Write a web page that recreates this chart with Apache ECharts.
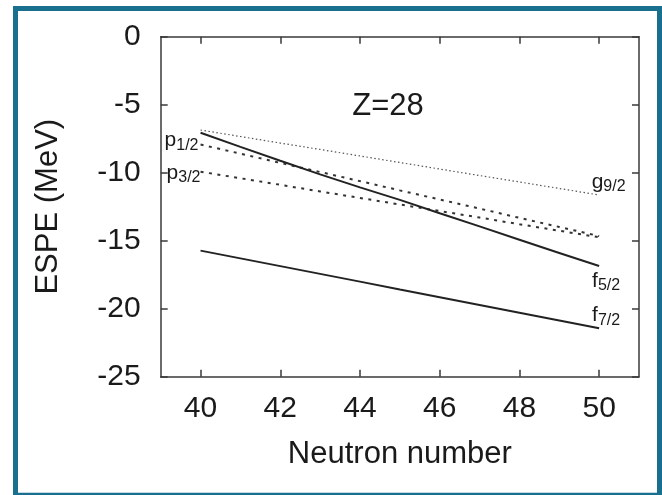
<!DOCTYPE html>
<html><head><meta charset="utf-8">
<script src="https://cdn.jsdelivr.net/npm/echarts@6/dist/echarts.min.js"></script>
<style>html,body{margin:0;padding:0;background:#fff}#c{width:662px;height:495px}</style>
</head><body><div id="c"></div>
<script>
// ---- data ----
const neutronNumbers = [40, 41, 42, 43, 44, 45, 46, 47, 48, 49, 50];
const g92 = [-6.86, -7.34, -7.82, -8.29, -8.77, -9.25, -9.73, -10.21, -10.68, -11.16, -11.64];
const p12 = [-7.93, -8.60, -9.28, -9.95, -10.62, -11.30, -11.97, -12.64, -13.32, -13.99, -14.66];
const p32 = [-9.93, -10.41, -10.89, -11.38, -11.86, -12.34, -12.82, -13.30, -13.79, -14.27, -14.75];
const f52 = [-7.06, -8.10, -9.12, -10.12, -11.08, -12.00, -12.98, -13.95, -14.93, -15.90, -16.86];
const f72 = [-15.73, -16.30, -16.87, -17.44, -18.01, -18.59, -19.16, -19.73, -20.30, -20.87, -21.44];
const xTicks = [40, 42, 44, 46, 48, 50];
const yTicks = [0, -5, -10, -15, -20, -25];
const orbitalNames = { g92: ['g', '9/2'], p12: ['p', '1/2'], p32: ['p', '3/2'], f52: ['f', '5/2'], f72: ['f', '7/2'] };
const panelTitle = 'Z=28';

const FONT = "'Liberation Sans', Arial, Helvetica, sans-serif";
const INK = '#1a1a1a';

function labelOf(key, offset) {
  const n = orbitalNames[key];
  return {
    show: true, position: 'inside', offset: offset, color: INK,
    formatter: '{m|' + n[0] + '}{s|' + n[1] + '}',
    rich: {
      m: { fontSize: 21, fontFamily: FONT, color: INK },
      s: { fontSize: 16, fontFamily: FONT, color: INK, padding: [10, 0, 0, 0] }
    }
  };
}
function buildData(values, labelIndex, label) {
  return neutronNumbers.map((x, i) => {
    const item = { value: [x, values[i]] };
    if (i === labelIndex) item.label = label;
    return item;
  });
}
function lineSeries(values, lineStyle, labelIndex, label) {
  return {
    type: 'line', xAxisIndex: 0, yAxisIndex: 0,
    data: buildData(values, labelIndex, label),
    showSymbol: true, symbol: 'circle', symbolSize: 0.5,
    itemStyle: { color: 'rgba(0,0,0,0)' },
    lineStyle: lineStyle, label: { show: false },
    emphasis: { disabled: true }, silent: true, clip: false
  };
}

const axisLine = { show: true, onZero: false, lineStyle: { color: '#3a3a3a', width: 1.5 } };
const tickStyle = { color: '#3a3a3a', width: 1.5 };

const chart = echarts.init(document.getElementById('c'), null, { renderer: 'canvas' });
chart.setOption({
  animation: false,
  backgroundColor: '#fff',
  grid: { left: 160.7, right: 23, top: 36.7, bottom: 118.3, containLabel: false },
  xAxis: [
    {
      type: 'value', min: 39, max: 51, position: 'bottom',
      axisLine: axisLine,
      axisTick: { show: true, inside: true, length: 7, customValues: xTicks, lineStyle: tickStyle },
      axisLabel: { customValues: xTicks, fontSize: 30, fontFamily: FONT, color: INK, margin: 17 },
      splitLine: { show: false },
      name: 'Neutron number', nameLocation: 'middle', nameGap: 62,
      nameTextStyle: { fontSize: 31, fontFamily: FONT, color: INK }
    },
    {
      type: 'value', min: 39, max: 51, position: 'top',
      axisLine: axisLine,
      axisTick: { show: true, inside: true, length: 7, customValues: xTicks, lineStyle: tickStyle },
      axisLabel: { show: false }, splitLine: { show: false }
    }
  ],
  yAxis: [
    {
      type: 'value', min: -25, max: 0, interval: 5, position: 'left',
      axisLine: axisLine,
      axisTick: { show: true, inside: true, length: 7, lineStyle: tickStyle },
      axisLabel: { fontSize: 30, fontFamily: FONT, color: INK, margin: 20 },
      splitLine: { show: false },
      name: 'ESPE (MeV)', nameLocation: 'middle', nameGap: 97, nameRotate: 90,
      nameTextStyle: { fontSize: 31, fontFamily: FONT, color: INK }
    },
    {
      type: 'value', min: -25, max: 0, interval: 5, position: 'right',
      axisLine: axisLine,
      axisTick: { show: true, inside: true, length: 7, lineStyle: tickStyle },
      axisLabel: { show: false }, splitLine: { show: false }
    }
  ],
  graphic: [
    {
      type: 'rect', silent: true,
      shape: { x: 15.5, y: 8.5, width: 644, height: 486.7 },
      style: { fill: 'none', stroke: '#19708e', lineWidth: 5 }
    },
    {
      type: 'text', x: 388, y: 106, silent: true,
      style: { text: panelTitle, font: "31px " + FONT, fill: INK, align: 'center', verticalAlign: 'middle', textAlign: 'center', textVerticalAlign: 'middle' }
    }
  ],
  series: [
    lineSeries(g92, { color: '#555', width: 1.2, type: [1.5, 2.5] }, 10, labelOf('g92', [9.5, -13])),
    lineSeries(p12, { color: '#333', width: 2, type: [3, 5.5] }, 0, labelOf('p12', [-19, -4])),
    lineSeries(p32, { color: '#333', width: 2, type: [3, 5.5] }, 0, labelOf('p32', [-17, 1])),
    lineSeries(f52, { color: '#222', width: 2 }, 10, labelOf('f52', [7, 15])),
    lineSeries(f72, { color: '#222', width: 2 }, 10, labelOf('f72', [7, -13]))
  ]
});
</script>
</body></html>
